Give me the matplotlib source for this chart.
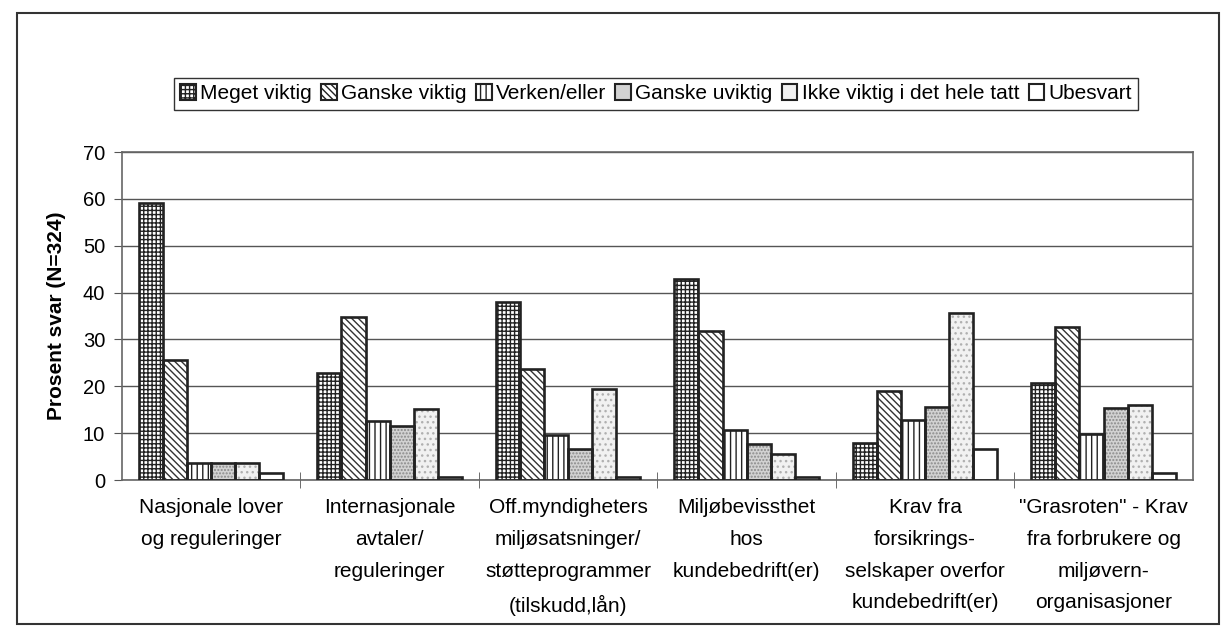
import numpy as np
import matplotlib
matplotlib.use('Agg')
import matplotlib.pyplot as plt
from matplotlib.patches import Patch, Rectangle

plt.rcParams['font.family'] = ['Liberation Sans', 'DejaVu Sans']
plt.rcParams['hatch.linewidth'] = 1.0

# categories and answers (percent of N=324)
categories = [
    'Nasjonale lover\nog reguleringer',
    'Internasjonale\navtaler/\nreguleringer',
    'Off.myndigheters\nmiljøsatsninger/\nstøtteprogrammer\n(tilskudd,lån)',
    'Miljøbevissthet\nhos\nkundebedrift(er)',
    'Krav fra\nforsikrings-\nselskaper overfor\nkundebedrift(er)',
    '"Grasroten" - Krav\nfra forbrukere og\nmiljøvern-\norganisasjoner',
]
series_names = ['Meget viktig', 'Ganske viktig', 'Verken/eller',
                'Ganske uviktig', 'Ikke viktig i det hele tatt', 'Ubesvart']
meget_viktig = [59.1, 22.8, 38.0, 42.9, 8.0, 20.8]
ganske_viktig = [25.7, 34.8, 23.7, 31.8, 19.0, 32.6]
verken_eller = [3.6, 12.6, 9.6, 10.7, 12.9, 9.9]
ganske_uviktig = [3.6, 11.5, 6.6, 7.6, 15.6, 15.4]
ikke_viktig = [3.6, 15.2, 19.4, 5.5, 35.7, 16.1]
ubesvart = [1.6, 0.6, 0.6, 0.7, 6.6, 1.6]

values = [meget_viktig, ganske_viktig, verken_eller,
          ganske_uviktig, ikke_viktig, ubesvart]

# fill, hatch, hatch colour per series
styles = [
    ('white', '++++', '#222222'),
    ('white', '\\\\\\\\\\', '#333333'),
    ('white', '|||', '#222222'),
    ('#d2d2d2', '.....', '#8a8a8a'),
    ('#f1f1f1', '...', '#b0b0b0'),
    ('white', None, '#222222'),
]

fig = plt.figure(figsize=(12.31, 6.38), dpi=100)
ax = fig.add_axes([0.099, 0.2476, 0.870, 0.514])

x = np.arange(len(categories))
w = 0.135
for j, vals in enumerate(values):
    fc, hatch, hc = styles[j]
    pos = x + (j - 2.5) * w
    ax.bar(pos, vals, width=w, color=fc, hatch=hatch, edgecolor=hc,
           linewidth=0, zorder=2)
    ax.bar(pos, vals, width=w, fill=False, edgecolor='#222222',
           linewidth=1.9, zorder=3)

ax.set_xlim(-0.5, len(categories) - 0.5)
ax.set_ylim(0, 70)
ax.set_yticks(np.arange(0, 71, 10))
ax.yaxis.grid(True, color='#555555', linewidth=1)
ax.set_axisbelow(True)

ax.set_xticks(x)
ax.set_xticklabels(categories, fontsize=15, linespacing=1.85, va='top')
ax.set_xticks(np.arange(0.5, len(categories) - 0.5, 1), minor=True)
ax.tick_params(axis='x', which='major', length=0, pad=13)
ax.tick_params(axis='x', which='minor', length=12, direction='inout',
               color='#555555')
ax.tick_params(axis='y', labelsize=14.5, length=6, color='#555555', pad=6)

for s in ax.spines.values():
    s.set_color('#666666')
    s.set_linewidth(1.2)

ax.set_ylabel('Prosent svar (N=324)', fontsize=15, fontweight='bold',
              labelpad=12)

handles = []
for j in range(len(series_names)):
    fc, hatch, hc = styles[j]
    if j in (3, 4):
        handles.append(Patch(facecolor=fc, edgecolor='#222222', linewidth=1.5))
    else:
        handles.append(Patch(facecolor=fc, hatch=hatch, edgecolor='#222222',
                             linewidth=1.5))
leg = fig.legend(handles, series_names, loc='center',
                 bbox_to_anchor=(0.533, 0.853), ncol=6, fontsize=15,
                 frameon=True, fancybox=False, framealpha=1,
                 edgecolor='#333333', borderpad=0.3, handlelength=0.75,
                 handleheight=0.75, handletextpad=0.2, columnspacing=0.45)
leg.get_frame().set_linewidth(1)

fig.add_artist(Rectangle((0.014, 0.022), 0.976, 0.958,
                         transform=fig.transFigure, fill=False,
                         linewidth=1.5, edgecolor='#333333'))

fig.savefig('out.png', dpi=100)
